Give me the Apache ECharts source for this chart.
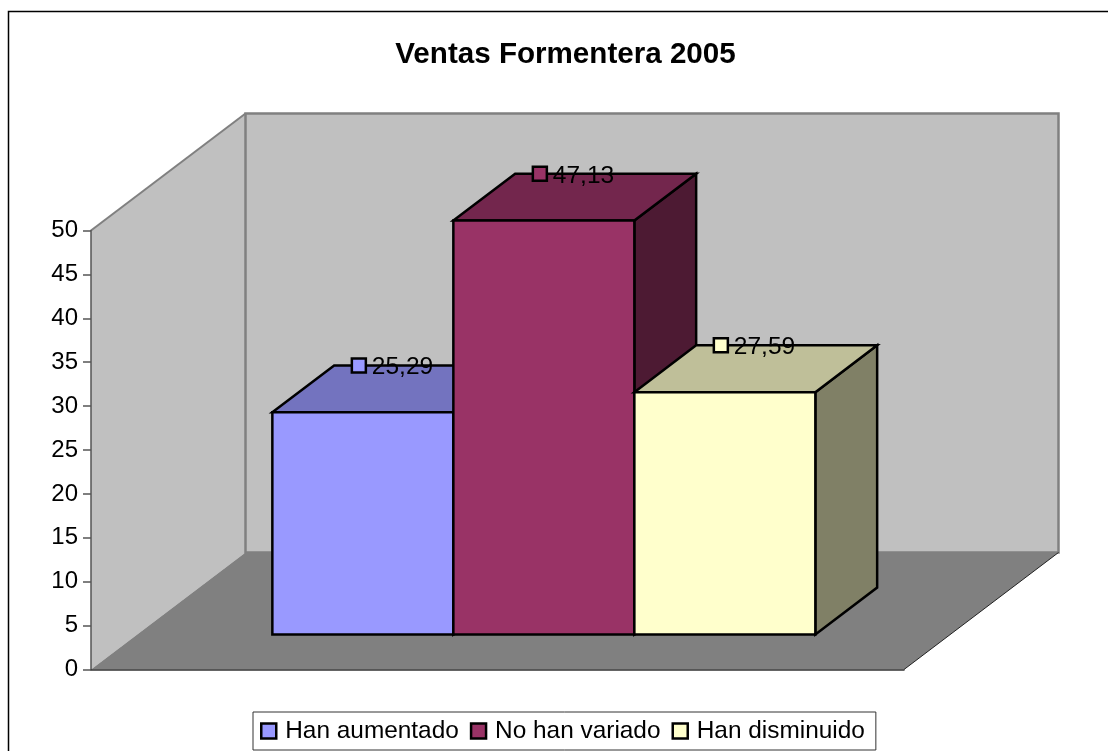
<!DOCTYPE html>
<html>
<head>
<meta charset="utf-8">
<style>html,body{margin:0;padding:0;background:#fff;overflow:hidden}#c{width:1108px;height:751px}</style>
<script src="https://cdn.jsdelivr.net/npm/echarts@6/dist/echarts.min.js"></script>
</head>
<body>
<div id="c"></div>
<script>
const categories = ['Ventas Formentera 2005'];
const seriesNames = ['Han aumentado', 'No han variado', 'Han disminuido'];
const aumentado = [25.29];
const variado = [47.13];
const disminuido = [27.59];
const yTicks = {min: 0, max: 50, interval: 5};
const seriesValues = [aumentado, variado, disminuido];
const fills = [
  {front: '#9999FF', top: '#7373BF', side: '#4D4D80'},
  {front: '#993366', top: '#73264D', side: '#4D1A33'},
  {front: '#FFFFCC', top: '#BFBF99', side: '#808066'}
];
const FONT = '"Liberation Sans", Arial, sans-serif';
const DEPTH = {dx: 154.5, dy: -117};
const BAR = {front: 0.3, back: 0.7, width: 181 / 813};

function poly(pts, fill, stroke, lw) {
  return {type: 'polygon', shape: {points: pts},
    style: {fill: fill, stroke: stroke || 'none', lineWidth: lw || 0, lineJoin: 'miter'}};
}
function renderBox(params, api) {
  const i = params.seriesIndex - 1;
  const base = api.coord([0, 0]);
  const tip = api.coord([0, api.value(1)]);
  const band = api.size([1, 0])[0];
  const w = band * BAR.width;
  const cx = base[0] + (i - 1) * w;
  const fx = DEPTH.dx * BAR.front, fy = DEPTH.dy * BAR.front;
  const bx = DEPTH.dx * (BAR.back - BAR.front), by = DEPTH.dy * (BAR.back - BAR.front);
  const l = cx - w / 2 + fx, r = cx + w / 2 + fx;
  const t = tip[1] + fy, b = base[1] + fy;
  const c = fills[i];
  const mx = l + 86.5, my = t + by;
  return {type: 'group', children: [
    poly([[r, t], [r + bx, t + by], [r + bx, b + by], [r, b]], c.side, '#000', 2.5),
    poly([[l, t], [l + bx, t + by], [r + bx, t + by], [r, t]], c.top, '#000', 2.5),
    poly([[l, t], [r, t], [r, b], [l, b]], c.front, '#000', 2.5),
    {type: 'rect', shape: {x: mx - 7, y: my - 7, width: 14, height: 14},
      style: {fill: c.front, stroke: '#000', lineWidth: 2.5}, z2: 5},
    {type: 'text', x: mx + 13, y: my + 2,
      style: {text: api.value(1).toFixed(2).replace('.', ','), fill: '#000',
        font: '24.5px ' + FONT, align: 'left', verticalAlign: 'middle'}, z2: 6}
  ]};
}
function renderWalls(params, api) {
  const p0 = api.coord([0, 0]);
  const p1 = api.coord([0, yTicks.max]);
  const band = api.size([1, 0])[0];
  const x0 = p0[0] - band / 2, x1 = p0[0] + band / 2;
  const y0 = p0[1], y1 = p1[1];
  const dx = DEPTH.dx, dy = DEPTH.dy;
  return {type: 'group', children: [
    poly([[x0, y0], [x0 + dx, y0 + dy], [x0 + dx, y1 + dy], [x0, y1]], '#C0C0C0'),
    poly([[x0, y0], [x1, y0], [x1 + dx, y0 + dy], [x0 + dx, y0 + dy]], '#808080'),
    poly([[x0 + dx, y0 + dy], [x1 + dx, y0 + dy], [x1 + dx, y1 + dy], [x0 + dx, y1 + dy]], '#C0C0C0', '#808080', 2.5),
    {type: 'polyline', shape: {points: [[x0, y1], [x0 + dx, y1 + dy]]}, style: {stroke: '#808080', lineWidth: 2, fill: 'none'}},
    {type: 'polyline', shape: {points: [[x1, y0], [x1 + dx, y0 + dy]]}, style: {stroke: '#222', lineWidth: 1, fill: 'none'}}
  ]};
}
const chart = echarts.init(document.getElementById('c'), null, {renderer: 'canvas'});
chart.setOption({
  animation: false,
  backgroundColor: '#fff',
  title: {
    text: categories[0], left: 560.5, top: 35, textAlign: 'center',
    textStyle: {fontFamily: FONT, fontSize: 29.6, fontWeight: 'bold', color: '#000'}
  },
  graphic: [{
    type: 'rect', silent: true, z: -10,
    shape: {x: 8.5, y: 11.5, width: 1300, height: 900},
    style: {fill: 'none', stroke: '#000', lineWidth: 1.5}
  }],
  legend: {
    data: seriesNames, left: 253, top: 712, orient: 'horizontal',
    padding: [7, 11, 7, 7], itemGap: 11, itemWidth: 15, itemHeight: 15,
    icon: 'rect', borderColor: '#333', borderWidth: 1, selectedMode: false,
    itemStyle: {borderColor: '#000', borderWidth: 2.5},
    textStyle: {fontFamily: FONT, fontSize: 24.4, color: '#000', padding: [0, 0, 0, 4]}
  },
  grid: {left: 91, top: 230.5, width: 813, height: 439, containLabel: false},
  xAxis: {
    type: 'category', data: categories,
    axisLine: {show: true, lineStyle: {color: '#333', width: 1.5}},
    axisTick: {show: false}, axisLabel: {show: false}, splitLine: {show: false}, z: 3
  },
  yAxis: {
    type: 'value', min: yTicks.min, max: yTicks.max, interval: yTicks.interval,
    axisLine: {show: true, lineStyle: {color: '#555', width: 1.5}},
    axisTick: {show: true, length: 8, lineStyle: {color: '#555', width: 1.5}},
    axisLabel: {fontFamily: FONT, fontSize: 24, color: '#000', margin: 13},
    splitLine: {show: false}, z: 3
  },
  series: [
    {type: 'custom', name: 'walls', renderItem: renderWalls, silent: true, z: 1,
      encode: {x: 0, y: 1}, data: [[0, yTicks.max]]}
  ].concat(seriesNames.map((n, i) => ({
    type: 'custom', name: n, renderItem: renderBox, z: 4 + i,
    encode: {x: 0, y: 1},
    itemStyle: {color: fills[i].front},
    data: [[0, seriesValues[i][0]]]
  })))
});
</script>
</body>
</html>
